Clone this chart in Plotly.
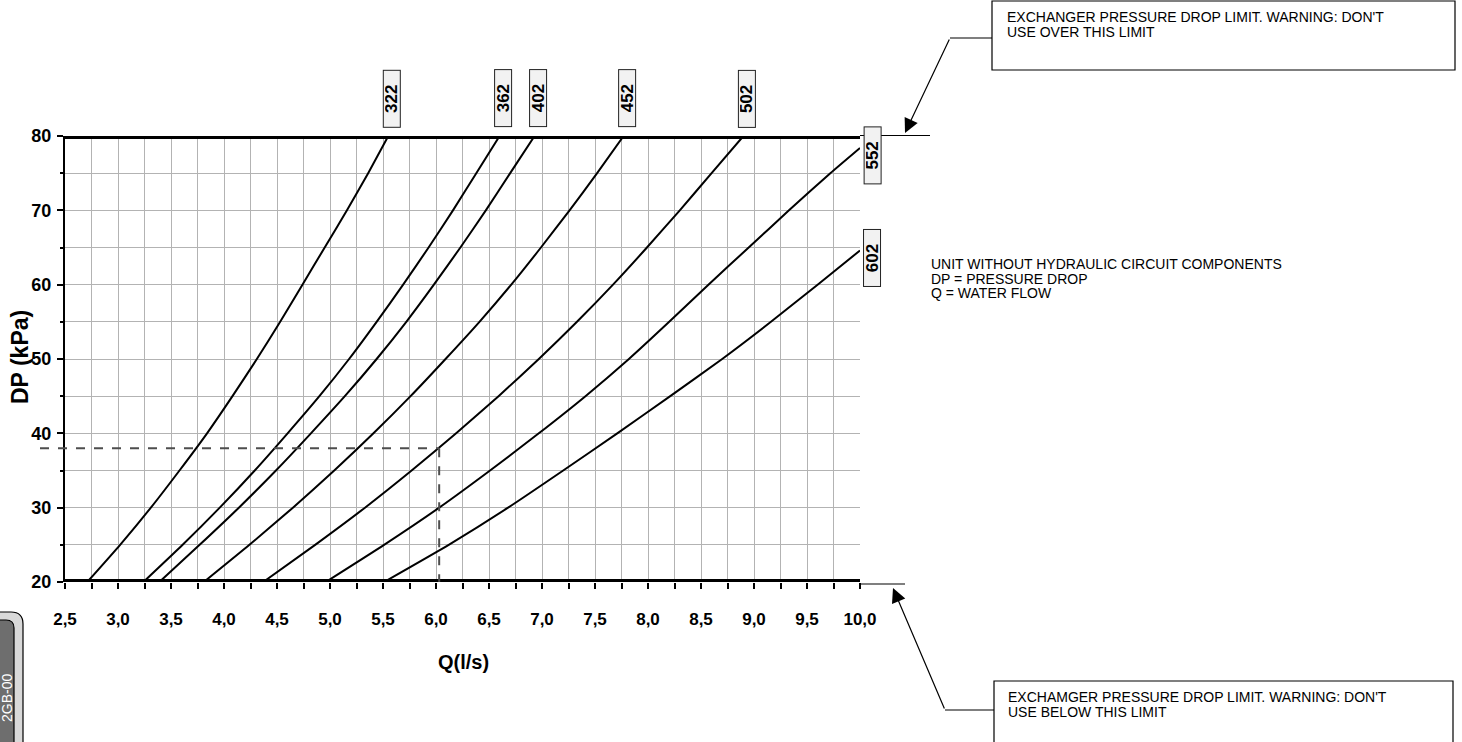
import plotly.graph_objects as go

# ---------------- data ----------------
DP_STEPS = [20, 25, 30, 35, 40, 45, 50, 55, 60, 65, 70, 75, 80]
MODEL_LABELS = ["322", "362", "402", "452", "502", "552", "602"]

Q_322 = [2.71, 3.02, 3.31, 3.58, 3.84, 4.08, 4.31, 4.53, 4.74, 4.95, 5.16, 5.36, 5.55]
Q_362 = [3.24, 3.61, 3.96, 4.29, 4.60, 4.90, 5.18, 5.44, 5.69, 5.93, 6.16, 6.38, 6.60]
Q_402 = [3.39, 3.77, 4.14, 4.49, 4.82, 5.14, 5.44, 5.72, 5.98, 6.23, 6.47, 6.70, 6.93]
Q_452 = [3.81, 4.24, 4.65, 5.04, 5.41, 5.76, 6.09, 6.41, 6.71, 6.99, 7.26, 7.52, 7.77]
Q_502 = [4.37, 4.86, 5.33, 5.77, 6.19, 6.59, 6.97, 7.33, 7.67, 7.99, 8.30, 8.60, 8.90]
DP_552 = [20, 25, 30, 35, 40, 45, 50, 55, 60, 65, 70, 75, 78.4]
Q_552 = [4.96, 5.51, 6.03, 6.51, 6.97, 7.41, 7.82, 8.20, 8.57, 8.95, 9.33, 9.72, 10.0]
DP_602 = [20, 25, 30, 35, 40, 45, 50, 55, 60, 64.6]
Q_602 = [5.51, 6.12, 6.68, 7.20, 7.71, 8.21, 8.70, 9.16, 9.60, 10.0]

EXAMPLE_Q = 6.03
EXAMPLE_DP = 38

DP_MIN, DP_MAX = 20, 80
Q_MIN, Q_MAX = 2.5, 10.0

TOP_NOTE = ["EXCHANGER PRESSURE DROP LIMIT. WARNING: DON'T", "USE OVER THIS LIMIT"]
BOTTOM_NOTE = ["EXCHAMGER PRESSURE DROP LIMIT. WARNING: DON'T", "USE BELOW THIS LIMIT"]
MID_NOTE = ["UNIT WITHOUT HYDRAULIC CIRCUIT COMPONENTS", "DP = PRESSURE DROP", "Q = WATER FLOW"]
BADGE = "2GB-00"

curves = [
    (MODEL_LABELS[0], Q_322, DP_STEPS),
    (MODEL_LABELS[1], Q_362, DP_STEPS),
    (MODEL_LABELS[2], Q_402, DP_STEPS),
    (MODEL_LABELS[3], Q_452, DP_STEPS),
    (MODEL_LABELS[4], Q_502, DP_STEPS),
    (MODEL_LABELS[5], Q_552, DP_552),
    (MODEL_LABELS[6], Q_602, DP_602),
]

# ---------------- layout geometry ----------------
W, H = 1462, 742
ML, MR, MT, MB = 65, 602, 136, 160
PW, PH = W - ML - MR, H - MT - MB


def px(x):
    return (x - ML) / PW


def py(y):
    return (H - MB - y) / PH


FONT = "Liberation Sans, Arial, sans-serif"

fig = go.Figure()
for name, q, dp in curves:
    fig.add_trace(go.Scatter(
        x=q, y=dp, mode="lines", name=name,
        line=dict(color="black", width=2, shape="spline", smoothing=0.5),
        showlegend=False, hoverinfo="skip",
    ))

shapes = []
# thick limit lines
for yv in (DP_MIN, DP_MAX):
    shapes.append(dict(type="line", xref="x", yref="y", x0=Q_MIN, x1=Q_MAX, y0=yv, y1=yv,
                       line=dict(color="black", width=6), layer="above"))
# thin extensions of limit lines
shapes.append(dict(type="line", xref="paper", yref="paper", x0=px(860), x1=px(930),
                   y0=py(135.5), y1=py(135.5), line=dict(color="black", width=1.2)))
shapes.append(dict(type="line", xref="paper", yref="paper", x0=px(860), x1=px(905),
                   y0=py(584), y1=py(584), line=dict(color="black", width=1.2)))
# example dashed lines
shapes.append(dict(type="line", xref="paper", yref="y", x0=px(40),
                   x1=(EXAMPLE_Q - Q_MIN) / (Q_MAX - Q_MIN), y0=EXAMPLE_DP, y1=EXAMPLE_DP,
                   line=dict(color="#4d4d4d", width=2, dash="dash"), layer="above"))
shapes.append(dict(type="line", xref="x", yref="y", x0=EXAMPLE_Q, x1=EXAMPLE_Q,
                   y0=EXAMPLE_DP, y1=DP_MIN,
                   line=dict(color="#4d4d4d", width=2, dash="dash"), layer="above"))
# note boxes
shapes.append(dict(type="rect", xref="paper", yref="paper", x0=px(992), x1=px(1455),
                   y0=py(1), y1=py(70), line=dict(color="black", width=1.2)))
shapes.append(dict(type="rect", xref="paper", yref="paper", x0=px(994), x1=px(1453),
                   y0=py(681), y1=py(770), line=dict(color="black", width=1.2)))
# connector horizontal segments
shapes.append(dict(type="line", xref="paper", yref="paper", x0=px(950), x1=px(992),
                   y0=py(38), y1=py(38), line=dict(color="black", width=1.2)))
shapes.append(dict(type="line", xref="paper", yref="paper", x0=px(945), x1=px(994),
                   y0=py(710), y1=py(710), line=dict(color="black", width=1.2)))


# badge bottom-left
def rpath(x0, x1, y0, y1, r):
    pts = [
        f"M {px(x0)},{py(y1)}",
        f"L {px(x0)},{py(y0 + r)}",
        f"Q {px(x0)},{py(y0)} {px(x0 + r)},{py(y0)}",
        f"L {px(x1 - r)},{py(y0)}",
        f"Q {px(x1)},{py(y0)} {px(x1)},{py(y0 + r)}",
        f"L {px(x1)},{py(y1)} Z",
    ]
    return " ".join(pts)


shapes.append(dict(type="path", xref="paper", yref="paper", path=rpath(-30, 23, 612, 760, 12),
                   fillcolor="#d9d9d9", line=dict(color="black", width=1.2)))
shapes.append(dict(type="path", xref="paper", yref="paper", path=rpath(-30, 14, 620, 760, 8),
                   fillcolor="#6e6e6e", line=dict(color="black", width=1.2)))

annotations = []
# model labels
for name, q, dp in curves:
    if dp[-1] >= DP_MAX:
        annotations.append(dict(x=q[-1], y=DP_MAX, xref="x", yref="y", xshift=3, yshift=37.5))
    else:
        annotations.append(dict(x=q[-1], y=dp[-1], xref="x", yref="y", xshift=12.5, yshift=-8))
    annotations[-1].update(dict(
        text=f"<b>{name}</b>", showarrow=False, textangle=-90,
        font=dict(family=FONT, size=17, color="black"),
        bgcolor="#f2f2f2", bordercolor="#222", borderwidth=1, borderpad=1,
        width=54, height=14, xanchor="center", yanchor="middle",
    ))

# axis titles
annotations.append(dict(text="<b>Q(l/s)</b>", x=px(463), y=py(662), xref="paper", yref="paper",
                        xanchor="center", yanchor="middle",
                        showarrow=False, font=dict(family=FONT, size=20, color="black")))
annotations.append(dict(text="<b>DP (kPa)</b>", x=px(20), y=py(357), xref="paper", yref="paper",
                        xanchor="center", yanchor="middle",
                        showarrow=False, textangle=-90, font=dict(family=FONT, size=23, color="black")))


def text_lines(lines, x, y0, step, size=14):
    for i, t in enumerate(lines):
        annotations.append(dict(text=t, x=px(x), y=py(y0 + i * step), xref="paper", yref="paper",
                                xanchor="left", yanchor="middle", showarrow=False,
                                font=dict(family=FONT, size=size, color="black")))


text_lines(TOP_NOTE, 1005, 17, 15)
text_lines(BOTTOM_NOTE, 1006, 697, 15)
text_lines(MID_NOTE, 929, 264, 14.5)

# arrows
annotations.append(dict(text="", x=px(905), y=py(133), xref="paper", yref="paper",
                        ax=45, ay=-95, showarrow=True, arrowhead=2, arrowsize=2.4,
                        arrowwidth=1.2, arrowcolor="black", standoff=0))
annotations.append(dict(text="", x=px(893), y=py(588), xref="paper", yref="paper",
                        ax=52, ay=122, showarrow=True, arrowhead=2, arrowsize=2.4,
                        arrowwidth=1.2, arrowcolor="black", standoff=0))
# badge text
annotations.append(dict(text=BADGE, x=px(7), y=py(698), xref="paper", yref="paper",
                        xanchor="center", yanchor="middle",
                        showarrow=False, textangle=-90,
                        font=dict(family=FONT, size=14, color="white")))

GRID = "#b3b3b3"
fig.update_layout(
    width=W, height=H,
    margin=dict(l=ML, r=MR, t=MT, b=MB, pad=0),
    paper_bgcolor="white", plot_bgcolor="white",
    separators=",.",
    showlegend=False,
    xaxis=dict(
        range=[Q_MIN, Q_MAX], tick0=Q_MIN, dtick=0.5, tickformat=".1f",
        ticks="outside", ticklen=6, tickwidth=1.5, tickcolor="black",
        showgrid=True, gridcolor=GRID, gridwidth=1, zeroline=False, showline=False,
        minor=dict(tick0=Q_MIN, dtick=0.25, ticks="outside", ticklen=6, tickwidth=1.5,
                   tickcolor="black", showgrid=True, gridcolor=GRID, gridwidth=1),
        tickfont=dict(family=FONT, size=17, color="black", weight="bold"),
        ticklabelstandoff=16, fixedrange=True,
    ),
    yaxis=dict(
        range=[DP_MIN, DP_MAX], tick0=DP_MIN, dtick=10,
        ticks="outside", ticklen=6, tickwidth=2, tickcolor="black",
        showgrid=True, gridcolor=GRID, gridwidth=1, zeroline=False,
        showline=True, linecolor="black", linewidth=2,
        minor=dict(tick0=DP_MIN, dtick=5, ticks="outside", ticklen=3, tickwidth=2,
                   tickcolor="black", showgrid=True, gridcolor=GRID, gridwidth=1),
        tickfont=dict(family=FONT, size=18, color="black", weight="bold"),
        ticklabelstandoff=2, fixedrange=True,
    ),
    shapes=shapes,
    annotations=annotations,
)

fig.write_html("out.html", config={"displayModeBar": False},
               post_script="document.body.style.margin='0px';")
